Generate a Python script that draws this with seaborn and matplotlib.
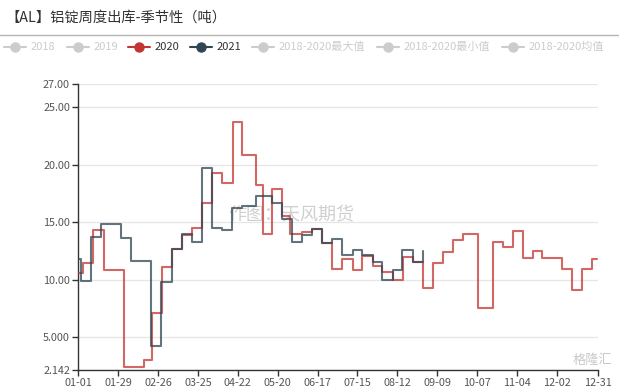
import pandas as pd
import matplotlib
matplotlib.use('Agg')
import matplotlib.pyplot as plt
import seaborn as sns
from matplotlib.lines import Line2D

# 数据：按年内天数(0 = 01-01) 记录的周度出库(万吨)
days_2020 = [0, 3, 10, 18, 32, 46, 52, 59, 66, 73, 80, 87, 94, 101, 109, 115,
             125, 130, 136, 143, 149, 157, 164, 171, 178, 185, 193, 199, 207,
             213, 221, 228, 235, 242, 249, 256, 263, 270, 281, 291, 298, 305,
             312, 319, 326, 340, 347, 354, 361, 364]
vals_2020 = [10.6, 11.4, 14.3, 10.8, 2.43, 3.0, 7.1, 11.1, 12.7, 13.9, 14.5,
             16.7, 19.3, 18.4, 23.7, 20.8, 18.2, 14.0, 17.9, 15.5, 13.97,
             14.17, 14.4, 13.2, 10.9, 11.8, 10.8, 12.05, 11.2, 10.7, 10.0,
             12.0, 11.5, 9.3, 11.4, 12.4, 13.4, 14.0, 7.5, 13.25, 12.8, 14.2,
             11.9, 12.5, 11.9, 10.9, 9.1, 10.9, 11.8, 11.8]

days_2021 = [0, 2, 9, 16, 30, 37, 51, 58, 66, 73, 80, 87, 94, 101, 108, 115,
             125, 136, 143, 150, 157, 164, 171, 178, 185, 193, 199, 207, 213,
             221, 227, 235, 242]
vals_2021 = [11.8, 9.9, 13.7, 14.8, 13.6, 11.6, 4.2, 9.8, 12.7, 14.0, 13.3,
             19.7, 14.45, 14.3, 16.2, 16.4, 17.3, 16.7, 15.3, 13.3, 13.85,
             14.4, 13.2, 13.5, 12.1, 12.6, 12.1, 11.56, 10.0, 10.84, 12.6,
             11.56, 12.5]

x_tick_pos = [0, 28, 56, 84, 112, 140, 168, 196, 224, 252, 280, 308, 336, 365]
x_tick_labels = ['01-01', '01-29', '02-26', '03-25', '04-22', '05-20', '06-17',
                 '07-15', '08-12', '09-09', '10-07', '11-04', '12-02', '12-31']
y_ticks = [2.142, 5, 10, 15, 20, 25, 27]
y_tick_labels = ['2.142', '5.000', '10.00', '15.00', '20.00', '25.00', '27.00']

legend_names = ['2018', '2019', '2020', '2021', '2018-2020最大值',
                '2018-2020最小值', '2018-2020均值']
legend_colors = ['#cccccc', '#cccccc', '#c23531', '#2f4554', '#cccccc',
                 '#cccccc', '#cccccc']

df = pd.concat([
    pd.DataFrame({'day': days_2020, 'val': vals_2020, 'year': '2020'}),
    pd.DataFrame({'day': days_2021, 'val': vals_2021, 'year': '2021'}),
])

sns.set_theme(style="white")
plt.rcParams['font.family'] = ['Noto Sans CJK SC', 'DejaVu Sans']

W, H = 619, 390
fig = plt.figure(figsize=(W / 100, H / 100), dpi=100)
ax = fig.add_axes([78.3 / W, 1 - 370 / H, (598 - 78.3) / W, (370 - 84) / H])

sns.lineplot(data=df, x='day', y='val', hue='year',
             palette={'2020': '#c23531', '2021': '#2f4554'},
             drawstyle='steps-post', linewidth=1.5, alpha=0.75,
             legend=False, ax=ax, zorder=3)

ax.set_xlim(0, 365)
ax.set_ylim(2.142, 27)
ax.set_xticks(x_tick_pos)
ax.set_xticklabels(x_tick_labels)
ax.set_yticks(y_ticks)
ax.set_yticklabels(y_tick_labels)
ax.set_xlabel('')
ax.set_ylabel('')
ax.grid(axis='y', color='#e6e6e6', linewidth=0.9)
ax.grid(axis='x', visible=False)
for s in ['top', 'right']:
    ax.spines[s].set_visible(False)
for s in ['left', 'bottom']:
    ax.spines[s].set_color('#333333')
    ax.spines[s].set_linewidth(1.0)
ax.tick_params(axis='both', length=4, width=1, color='#333333',
               labelcolor='#555555', labelsize=7.8, pad=2, direction='out',
               bottom=True, left=True)

# 水印
ax.text(0.41, 0.542, '作图：天风期货', transform=ax.transAxes, fontsize=13,
        color='#bbbbbb', alpha=0.7, ha='center', va='center', zorder=2)
fig.text(612 / W, 1 - 360 / H, '格隆汇', fontsize=9.5, color='#bbbbbb',
         ha='right', va='center', alpha=0.8)

# 标题与分隔线
fig.text(5 / W, 1 - 18 / H, '【AL】铝锭周度出库-季节性（吨）', fontsize=10.3,
         color='#333333', ha='left', va='center')
fig.add_artist(Line2D([0, 1], [1 - 35 / H, 1 - 35 / H], transform=fig.transFigure,
                      color='#b5b5b5', linewidth=1))

# 图例
icon_x = [4, 67, 128, 190, 252, 377, 502]
ly = 1 - 47 / H
for x0, name, col in zip(icon_x, legend_names, legend_colors):
    fig.add_artist(Line2D([x0 / W, (x0 + 22) / W], [ly, ly],
                          transform=fig.transFigure, color=col, linewidth=1.5))
    fig.add_artist(Line2D([(x0 + 11) / W], [ly], transform=fig.transFigure,
                          marker='o', markersize=6.5, color=col,
                          markeredgecolor=col))
    tcol = '#333333' if col != '#cccccc' else '#cccccc'
    fig.text((x0 + 27) / W, ly, name, fontsize=8, color=tcol,
             ha='left', va='center')

fig.savefig('out.png', dpi=100)
plt.close(fig)
